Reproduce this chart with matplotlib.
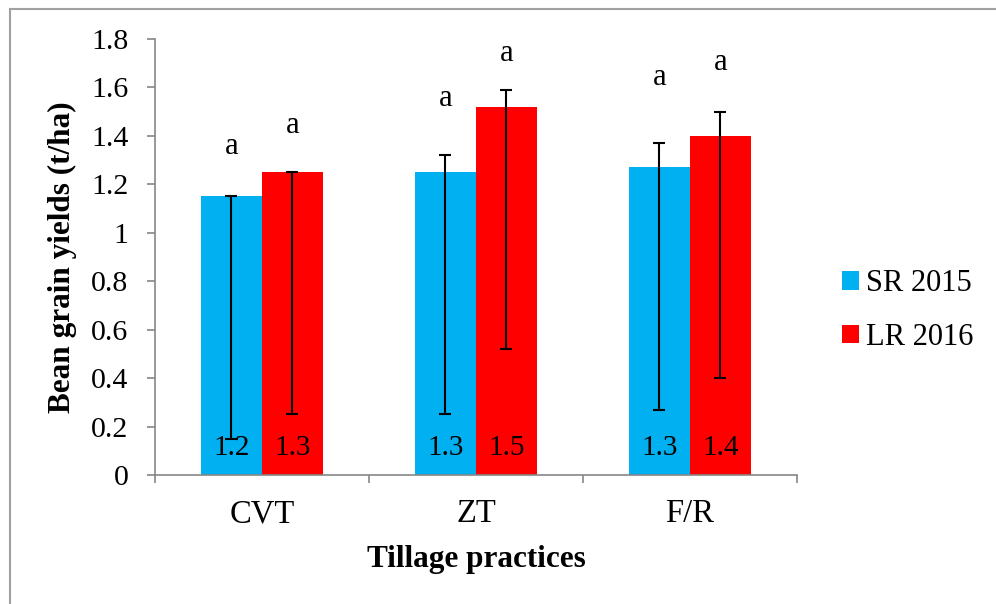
import numpy as np
import matplotlib
matplotlib.use("Agg")
import matplotlib.pyplot as plt
from matplotlib.patches import Patch, Rectangle

plt.rcParams['font.family'] = ['Liberation Serif', 'DejaVu Serif']

# data
practices = ['CVT', 'ZT', 'F/R']
sr_2015 = [1.15, 1.25, 1.27]
lr_2016 = [1.25, 1.52, 1.40]
# error bars (custom, asymmetric)
sr_err_low = [1.00, 1.00, 1.00]
sr_err_high = [0.00, 0.07, 0.10]
lr_err_low = [1.00, 1.00, 1.00]
lr_err_high = [0.00, 0.07, 0.10]
# data labels as printed inside the bars
sr_labels = ['1.2', '1.3', '1.3']
lr_labels = ['1.3', '1.5', '1.4']
# significance letters and the height where they sit
sr_letters = ['a', 'a', 'a']
lr_letters = ['a', 'a', 'a']
sr_letter_y = [1.355, 1.555, 1.64]
lr_letter_y = [1.445, 1.74, 1.705]

blue = '#00B0F0'
red = '#FF0000'
grey = '#868686'

fig = plt.figure(figsize=(9.96, 6.04), dpi=100)
ax = fig.add_axes([0.1556, 0.2136, 0.8002 - 0.1556, 0.9354 - 0.2136])

x = np.arange(len(practices))
w = 0.285

ax.bar(x - w / 2, sr_2015, w, color=blue, zorder=2)
ax.bar(x + w / 2, lr_2016, w, color=red, zorder=2)
ax.errorbar(x - w / 2, sr_2015, yerr=[sr_err_low, sr_err_high], fmt='none',
            ecolor='black', elinewidth=1.5, capsize=4.5, capthick=1.5, zorder=3)
ax.errorbar(x + w / 2, lr_2016, yerr=[lr_err_low, lr_err_high], fmt='none',
            ecolor='black', elinewidth=1.5, capsize=4.5, capthick=1.5, zorder=3)

for i in range(len(practices)):
    ax.text(x[i] - w / 2, 0.11, sr_labels[i], ha='center', va='center', fontsize=21, zorder=4)
    ax.text(x[i] + w / 2, 0.11, lr_labels[i], ha='center', va='center', fontsize=21, zorder=4)
    ax.text(x[i] - w / 2, sr_letter_y[i], sr_letters[i], ha='center', va='center', fontsize=22)
    ax.text(x[i] + w / 2, lr_letter_y[i], lr_letters[i], ha='center', va='center', fontsize=22)

ax.set_xlim(-0.5, len(practices) - 0.5)
ax.set_ylim(0, 1.8)
ax.set_yticks(np.arange(0, 1.81, 0.2))
ax.set_yticklabels(['0', '0.2', '0.4', '0.6', '0.8', '1', '1.2', '1.4', '1.6', '1.8'])
ax.set_xticks(x)
ax.set_xticklabels(practices)
ax.set_xticks(np.arange(-0.5, len(practices), 1.0), minor=True)

ax.tick_params(axis='y', length=6, width=1.2, color=grey, pad=13, labelsize=21.5)
ax.tick_params(axis='x', which='major', length=0, pad=17, labelsize=23.5)
ax.tick_params(axis='x', which='minor', length=6, width=1.2, color=grey)

for s in ['top', 'right']:
    ax.spines[s].set_visible(False)
for s in ['left', 'bottom']:
    ax.spines[s].set_color(grey)
    ax.spines[s].set_linewidth(1.2)

ax.set_ylabel('Bean grain yields (t/ha)', fontsize=22.5, fontweight='bold', labelpad=10)
ax.set_xlabel('Tillage practices', fontsize=22.5, fontweight='bold')
ax.xaxis.set_label_coords(0.5, -0.161)

handles = [Patch(facecolor=blue, label='SR 2015'), Patch(facecolor=red, label='LR 2016')]
fig.legend(handles=handles, loc='center left', bbox_to_anchor=(0.833, 0.486),
           frameon=False, fontsize=22, handlelength=0.55, handleheight=0.55,
           handletextpad=0.25, labelspacing=0.8, borderaxespad=0)

# outer chart border (cut off at right and bottom in the original)
fig.patches.append(Rectangle((10 / 996, -0.1), 1.2, 1 - 9 / 604 + 0.1,
                             transform=fig.transFigure, fill=False,
                             edgecolor='#A0A0A0', linewidth=1.5))

fig.savefig('out.png', dpi=100)
